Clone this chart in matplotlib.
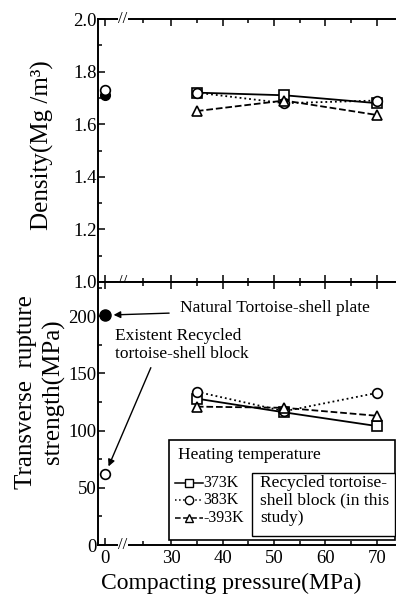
import numpy as np
import matplotlib
matplotlib.use('Agg')
import matplotlib.pyplot as plt
import matplotlib.transforms as mtransforms
from matplotlib.patches import Rectangle

plt.rcParams['font.family'] = ['Liberation Serif', 'DejaVu Serif']

# data
pressure = [35, 52, 70]
density_373 = [1.72, 1.71, 1.68]
density_383 = [1.72, 1.68, 1.69]
density_393 = [1.65, 1.69, 1.635]
strength_373 = [128, 116, 104]
strength_383 = [134, 117, 133]
strength_393 = [121, 120, 113]
natural_density = 1.71
existent_density = 1.73
natural_strength = 201
existent_strength = 62
series_labels = ['373K', '383K', '-393K']
x_ticks = [0, 30, 40, 50, 60, 70]
density_ticks = [1.0, 1.2, 1.4, 1.6, 1.8, 2.0]
strength_ticks = [0, 50, 100, 150, 200]

# broken x axis: 0..30 squeezed
X0 = 17.2
def fwd(x):
    x = np.asarray(x, dtype=float)
    return np.where(x >= 30, x, X0 + x * (30 - X0) / 30)

def inv(p):
    p = np.asarray(p, dtype=float)
    return np.where(p >= 30, p, (p - X0) * 30 / (30 - X0))

styles = [('-', 's'), (':', 'o'), ('--', '^')]

fig = plt.figure(figsize=(3.96, 5.98), dpi=100)
left, right = 98 / 396, 1.0
ax1 = fig.add_axes([left, 1 - 282 / 598, right - left, (282 - 19) / 598])
ax2 = fig.add_axes([left, 1 - 545 / 598, right - left, (545 - 282) / 598])

for ax in (ax1, ax2):
    ax.set_xscale('function', functions=(fwd, inv))
    ax.set_xlim(-3.3, 73.7)
    ax.set_xticks(x_ticks)
    ax.set_xticks([17, 35, 45, 55, 65], minor=True)
    ax.tick_params(axis='both', which='both', direction='in', top=True,
                   labelsize=13.5, width=1.1)
    ax.tick_params(axis='y', pad=1)
    ax.tick_params(which='major', length=5)
    ax.tick_params(which='minor', length=3)
    ax.spines['right'].set_visible(False)
    for s in ('left', 'top', 'bottom'):
        ax.spines[s].set_linewidth(1.4)

ax1.tick_params(labelbottom=False)

# density
mk = dict(markersize=7, markerfacecolor='white', markeredgecolor='black',
          markeredgewidth=1.2, color='black', linewidth=1.3)
for (ls, m), d in zip(styles, [density_373, density_383, density_393]):
    ax1.plot(pressure, d, linestyle=ls, marker=m, **mk)
ax1.plot([0], [natural_density], 'o', color='black', markersize=7)
ax1.plot([0], [existent_density], 'o', **mk)
ax1.set_ylim(1.0, 2.0)
ax1.set_yticks(density_ticks)
ax1.set_yticklabels([f'{v:.1f}' for v in density_ticks])
ax1.set_yticks(np.arange(1.1, 2.0, 0.2), minor=True)

# strength
for (ls, m), s in zip(styles, [strength_373, strength_383, strength_393]):
    ax2.plot(pressure, s, linestyle=ls, marker=m, **mk)
ax2.plot([0], [natural_strength], 'o', color='black', markersize=8)
ax2.plot([0], [existent_strength], 'o', **mk)
ax2.set_ylim(0, 230)
ax2.set_yticks(strength_ticks)
ax2.set_yticks([25, 75, 125, 175, 225], minor=True)
ax2.set_xticklabels([str(v) for v in x_ticks])

# break marks on the x spines
for ax, ys in ((ax1, (0, 1)), (ax2, (0,))):
    tr = mtransforms.blended_transform_factory(ax.transData, ax.transAxes)
    for y in ys:
        ax.text(8, y, '//', transform=tr, ha='center', va='center',
                fontsize=12, clip_on=False,
                bbox=dict(facecolor='white', edgecolor='none', pad=0.3))

# annotations
ax2.text(31.7, 207, 'Natural Tortoise-shell plate', fontsize=12.5,
         ha='left', va='center')
ax2.annotate('', xy=(0, natural_strength), xytext=(0.248, 0.882),
             textcoords='axes fraction',
             arrowprops=dict(arrowstyle='-|>', color='black', lw=1.0,
                             shrinkB=6, mutation_scale=10))
ax2.text(0.057, 0.76, 'Existent Recycled\ntortoise-shell block',
         transform=ax2.transAxes, fontsize=12.5, ha='left', va='center',
         linespacing=1.2)
ax2.annotate('', xy=(0, existent_strength), xytext=(0.181, 0.684),
             textcoords='axes fraction',
             arrowprops=dict(arrowstyle='-|>', color='black', lw=1.0,
                             shrinkB=6, mutation_scale=10))

# legend box (drawn by hand)
ax2.add_patch(Rectangle((0.238, 0.019), 0.76, 0.38, transform=ax2.transAxes,
                        facecolor='white', edgecolor='black', lw=1.2,
                        zorder=4))
ax2.text(0.268, 0.342, 'Heating temperature', transform=ax2.transAxes,
         fontsize=12.5, ha='left', va='center', zorder=5)
row_y = [0.236, 0.171, 0.103]
for (ls, m), lab, yy in zip(styles, series_labels, row_y):
    ax2.plot([0.258, 0.352], [yy, yy], transform=ax2.transAxes,
             linestyle=ls, color='black', lw=1.1, zorder=5, clip_on=False)
    ax2.plot([0.305], [yy], transform=ax2.transAxes, marker=m, markersize=6,
             markerfacecolor='white', markeredgecolor='black',
             markeredgewidth=1.0, zorder=6, clip_on=False)
    ax2.text(0.354, yy, lab, transform=ax2.transAxes, fontsize=11.5,
             ha='left', va='center', zorder=5)
ax2.add_patch(Rectangle((0.517, 0.034), 0.478, 0.24, transform=ax2.transAxes,
                        facecolor='white', edgecolor='black', lw=1.0,
                        zorder=5))
for line, yy in zip(['Recycled tortoise-', 'shell block (in this', 'study)'],
                    row_y):
    ax2.text(0.544, yy, line, transform=ax2.transAxes, fontsize=12.5,
             ha='left', va='center', zorder=6)

# axis labels
fig.text(42 / 396, 1 - 145 / 598, 'Density(Mg /m³)', rotation=90,
         ha='center', va='center', fontsize=18)
fig.text(40 / 396, 1 - 392 / 598, 'Transverse  rupture\nstrength(MPa)',
         rotation=90, ha='center', va='center', fontsize=18,
         linespacing=1.3)
fig.text(231 / 396, 1 - 583 / 598, 'Compacting pressure(MPa)',
         ha='center', va='center', fontsize=17)

fig.savefig('out.png', dpi=100)
